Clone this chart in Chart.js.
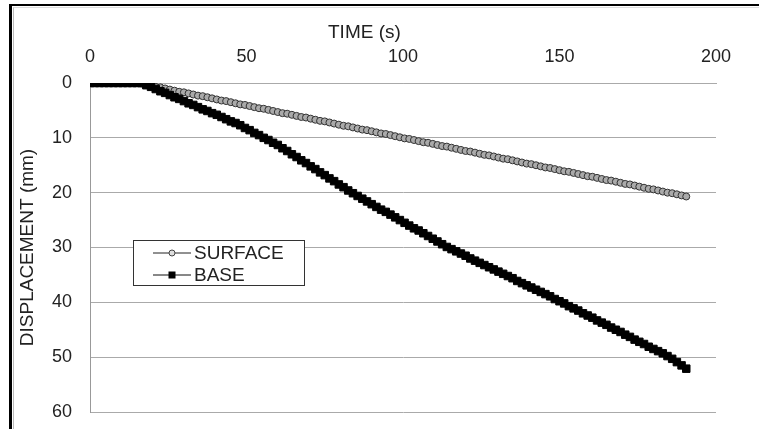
<!DOCTYPE html>
<html>
<head>
<meta charset="utf-8">
<script src="https://cdn.jsdelivr.net/npm/chart.js@4.4.1/dist/chart.umd.min.js"></script>
<style>
  html, body { margin: 0; padding: 0; background: #fff; }
  #wrap { position: relative; width: 759px; height: 429px; overflow: hidden; background: #fff; }
  #chart { position: absolute; left: 0; top: 0; }
  #frameOuter { position: absolute; left: 9px; top: 4px; width: 800px; height: 500px; border-left: 3px solid #000; border-top: 2px solid #000; }
  #frameInner { position: absolute; left: 13px; top: 7px; width: 800px; height: 500px; border-left: 1px solid #bbb; border-top: 1px solid #ddd; }
  #xTitle { position: absolute; left: 328px; top: 21px; font: 19px "Liberation Sans", Arial, sans-serif; color: #222; white-space: nowrap; }
  #legend { position: absolute; left: 133px; top: 240px; width: 170px; height: 44px; border: 1px solid #333; background: #fff; font: 19px "Liberation Sans", Arial, sans-serif; color: #222; }
  .li { position: absolute; left: 0; height: 22px; width: 170px; }
  .li svg { position: absolute; left: 19px; top: 0; }
  .li span { position: absolute; left: 60px; top: 0px; line-height: 21px; }
</style>
</head>
<body>
<div id="wrap">
  <canvas id="chart" width="759" height="429"></canvas>
  <div id="frameOuter"></div>
  <div id="frameInner"></div>
  <div id="xTitle">TIME (s)</div>
  <div id="legend">
    <div class="li" style="top:1px">
      <svg width="40" height="22"><line x1="0" y1="11" x2="38" y2="11" stroke="#222" stroke-width="1"/><circle cx="19" cy="11" r="3" fill="#ddd" stroke="#444" stroke-width="1"/></svg>
      <span>SURFACE</span>
    </div>
    <div class="li" style="top:23px">
      <svg width="40" height="22"><line x1="0" y1="11" x2="38" y2="11" stroke="#111" stroke-width="1"/><rect x="15.5" y="7.5" width="7" height="7" fill="#000"/></svg>
      <span>BASE</span>
    </div>
  </div>
</div>
<script>
// Time (s)
const timeSec = [0,1.5,3,4.5,6,7.5,9,10.5,12,13.5,15,16.5,18,19.5,21,22.5,24,25.5,27,28.5,30,31.5,33,34.5,36,37.5,39,40.5,42,43.5,45,46.5,48,49.5,51,52.5,54,55.5,57,58.5,60,61.5,63,64.5,66,67.5,69,70.5,72,73.5,75,76.5,78,79.5,81,82.5,84,85.5,87,88.5,90,91.5,93,94.5,96,97.5,99,100.5,102,103.5,105,106.5,108,109.5,111,112.5,114,115.5,117,118.5,120,121.5,123,124.5,126,127.5,129,130.5,132,133.5,135,136.5,138,139.5,141,142.5,144,145.5,147,148.5,150,151.5,153,154.5,156,157.5,159,160.5,162,163.5,165,166.5,168,169.5,171,172.5,174,175.5,177,178.5,180,181.5,183,184.5,186,187.5,189,190.5];
// Displacement (mm) - surface
const surfaceMm = [0,0,0,0,0,0,0,0,0,0,0,0.1,0.3,0.5,0.7,0.8,1.0,1.2,1.4,1.6,1.7,1.9,2.1,2.3,2.4,2.6,2.8,3.0,3.2,3.3,3.5,3.7,3.9,4.0,4.2,4.4,4.6,4.7,4.9,5.1,5.3,5.5,5.6,5.8,6.0,6.2,6.3,6.5,6.7,6.9,7.0,7.2,7.4,7.6,7.8,7.9,8.1,8.3,8.5,8.6,8.8,9.0,9.2,9.3,9.5,9.7,9.9,10.1,10.2,10.4,10.6,10.8,10.9,11.1,11.3,11.5,11.6,11.8,12.0,12.2,12.4,12.5,12.7,12.9,13.1,13.2,13.4,13.6,13.8,13.9,14.1,14.3,14.5,14.7,14.8,15.0,15.2,15.4,15.5,15.7,15.9,16.1,16.2,16.4,16.6,16.8,17.0,17.1,17.3,17.5,17.7,17.8,18.0,18.2,18.4,18.5,18.7,18.9,19.1,19.3,19.4,19.6,19.8,20.0,20.1,20.3,20.5,20.7];
// Displacement (mm) - base
const baseMm = [0,0,0,0,0,0,0,0,0,0,0,0.0,0.4,0.7,1.1,1.5,1.8,2.2,2.6,2.9,3.3,3.7,4.0,4.4,4.8,5.1,5.5,5.8,6.2,6.6,7.0,7.3,7.7,8.2,8.6,9.1,9.5,10.0,10.4,10.9,11.3,11.9,12.4,13.0,13.5,14.1,14.6,15.2,15.7,16.3,16.8,17.4,17.9,18.5,19.0,19.6,20.1,20.6,21.1,21.6,22.1,22.6,23.1,23.5,24.0,24.5,25.0,25.5,26.0,26.5,26.9,27.4,27.9,28.4,28.9,29.4,29.9,30.3,30.7,31.1,31.5,32.0,32.4,32.8,33.2,33.6,34.0,34.4,34.8,35.2,35.6,36.1,36.5,36.9,37.3,37.7,38.1,38.5,38.9,39.4,39.8,40.2,40.7,41.1,41.5,42.0,42.4,42.8,43.3,43.7,44.1,44.6,45.0,45.4,45.9,46.3,46.8,47.2,47.6,48.1,48.5,48.9,49.3,49.8,50.3,50.9,51.5,52.1];
const seriesNames = ['SURFACE', 'BASE'];

const toXY = (arr) => timeSec.map((t, i) => ({ x: t, y: arr[i] }));

new Chart(document.getElementById('chart'), {
  type: 'line',
  data: {
    datasets: [
      {
        label: seriesNames[0],
        data: toXY(surfaceMm),
        order: 1,
        borderColor: '#333',
        borderWidth: 1,
        pointStyle: 'circle',
        pointRadius: 3.5,
        pointBorderWidth: 1,
        pointBorderColor: '#333',
        pointBackgroundColor: '#aaa',
        tension: 0
      },
      {
        label: seriesNames[1],
        data: toXY(baseMm),
        order: 0,
        borderColor: '#000',
        borderWidth: 1,
        pointStyle: 'rect',
        pointRadius: 5.3,
        pointBorderWidth: 1,
        pointBorderColor: '#000',
        pointBackgroundColor: '#000',
        tension: 0
      }
    ]
  },
  options: {
    responsive: false,
    animation: false,
    devicePixelRatio: 1,
    layout: { padding: { left: 12, top: 0, right: 43, bottom: 17 } },
    plugins: { legend: { display: false }, tooltip: { enabled: false } },
    scales: {
      x: {
        type: 'linear',
        position: 'top',
        min: 0, max: 200,
        afterFit: (s) => { s.height = 83; },
        ticks: { stepSize: 50, padding: 15, color: '#222', font: { family: 'Liberation Sans', size: 18 } },
        grid: { display: false, drawTicks: false },
        border: { display: true, color: '#aaa' }
      },
      y: {
        type: 'linear',
        reverse: true,
        min: 0, max: 60,
        afterFit: (s) => { s.width = 78; s.paddingTop = 0; s.paddingBottom = 0; },
        ticks: { stepSize: 10, padding: 18, color: '#222', font: { family: 'Liberation Sans', size: 18 } },
        grid: { color: '#aaa', lineWidth: 1, drawTicks: false },
        border: { display: true, color: '#999' },
        title: { display: true, text: 'DISPLACEMENT (mm)', color: '#222', font: { family: 'Liberation Sans', size: 19 }, padding: { top: 4, bottom: 0 } }
      }
    }
  }
});
</script>
</body>
</html>
